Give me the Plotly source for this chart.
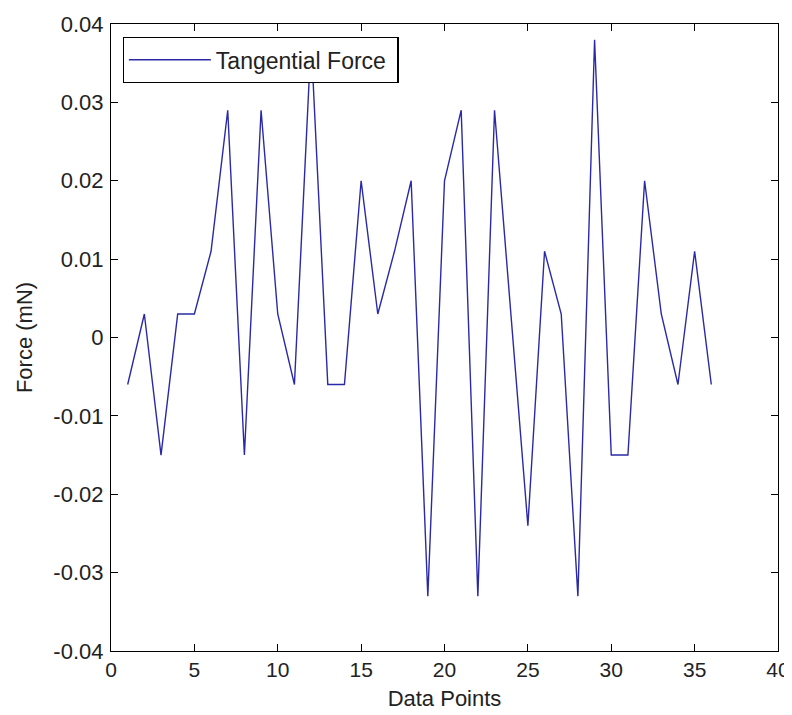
import plotly.graph_objects as go

data_points = list(range(1, 37))
tangential_force = [
    -0.006, 0.003, -0.015, 0.003, 0.003, 0.011, 0.029, -0.015, 0.029, 0.003,
    -0.006, 0.038, -0.006, -0.006, 0.020, 0.003, 0.011, 0.020, -0.033, 0.020,
    0.029, -0.033, 0.029, 0.003, -0.024, 0.011, 0.003, -0.033, 0.038, -0.015,
    -0.015, 0.020, 0.003, -0.006, 0.011, -0.006,
]
x_ticks = [0, 5, 10, 15, 20, 25, 30, 35, 40]
y_ticks = [-0.04, -0.03, -0.02, -0.01, 0, 0.01, 0.02, 0.03, 0.04]
y_tick_labels = ["-0.04", "-0.03", "-0.02", "-0.01", "0", "0.01", "0.02", "0.03", "0.04"]

FONT = "Liberation Sans, Arial, sans-serif"

fig = go.Figure()
fig.add_trace(go.Scatter(
    x=data_points, y=tangential_force, mode="lines",
    name="Tangential Force\u00a0",
    line=dict(color="#2a2aa8", width=1.4),
))

axis_common = dict(
    showline=True, linecolor="black", linewidth=1.2, mirror="ticks",
    ticks="inside", ticklen=7, tickwidth=1, tickcolor="black",
    showgrid=False, zeroline=False, automargin=False,
)

# page body has an 8px margin; compensate so the plot area lands where the reference has it
fig.update_layout(
    width=784, height=707,
    margin=dict(l=103, r=14, t=16, b=64),
    paper_bgcolor="white", plot_bgcolor="white",
    font=dict(family=FONT, size=21, color="#222"),
    showlegend=True,
    legend=dict(
        x=0.0175, y=0.979, xanchor="left", yanchor="top",
        bgcolor="white", bordercolor="black", borderwidth=1.2,
        font=dict(family=FONT, size=23, color="#222"),
        itemwidth=82,
    ),
    xaxis=dict(
        range=[0, 40], tickvals=x_ticks,
        tickfont=dict(family=FONT, size=21, color="#222"),
        title=dict(text="Data Points", font=dict(family=FONT, size=22, color="#222"), standoff=10),
        **axis_common,
    ),
    yaxis=dict(
        range=[-0.04, 0.04], tickvals=y_ticks, ticktext=y_tick_labels,
        tickfont=dict(family=FONT, size=22, color="#222"),
        ticklabelstandoff=2,
        title=dict(text="Force (mN)", font=dict(family=FONT, size=22, color="#222"), standoff=14),
        **axis_common,
    ),
)

fig.write_html("out.html")
